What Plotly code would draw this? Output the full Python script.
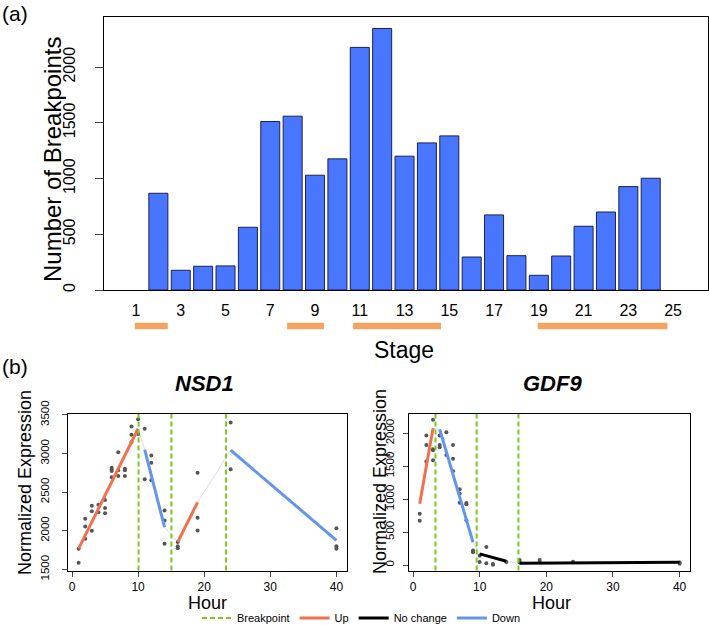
import plotly.graph_objects as go

W, H = 709, 625
FONT = "Liberation Sans, Arial, Helvetica, sans-serif"


def px(x):
    return x / W


def py(y):
    return 1 - y / H


# ---------------- Panel (a) data ----------------
stages = list(range(1, 26))
breakpoint_counts = [0, 868, 177, 213, 216, 563, 1512, 1560, 1030, 1177, 2177,
                     2347, 1201, 1320, 1383, 296, 674, 308, 132, 305, 572, 700,
                     928, 1003, 0]
stage_ticks = list(range(1, 26, 2))
lane_start = [0.95, 7.75, 10.7, 18.95]
lane_end = [2.42, 9.4, 14.63, 24.75]

# ---------------- Panel (b) data ----------------
nsd1_hour = [1, 1,
             2, 2, 2,
             3, 3, 3,
             4, 4,
             5, 5, 5,
             6, 6, 6, 6,
             7, 7, 7,
             8, 8, 8,
             9, 9, 9,
             10, 10,
             11, 11,
             12, 12, 12,
             14, 14, 14,
             16, 16, 16,
             19, 19, 19,
             24, 24,
             40, 40, 40]
nsd1_expr = [1586, 1769,
             2154, 2056, 1897,
             2325, 2252, 2000,
             2338, 2239,
             2397, 2295, 2226,
             2815, 2794, 2773, 2693,
             3017, 2782, 2709,
             2803, 2782, 2709,
             3350, 3244, 3150,
             3444, 3252,
             3321, 2667,
             2974, 2880, 2654,
             2261, 2132, 1833,
             1855, 1799, 1774,
             2752, 2167, 2004,
             3402, 2795,
             2034, 1799, 1769]
nsd1_seg_x0 = [1, 11, 16, 24]
nsd1_seg_x1 = [10, 14, 19, 40]
nsd1_seg_y0 = [1769, 3051, 1855, 3043]
nsd1_seg_y1 = [3320, 2047, 2368, 1876]
nsd1_seg_type = ["Up", "Down", "Up", "Down"]
nsd1_breaks = [10.07, 15.04, 23.3]

gdf9_hour = [1, 1,
             2, 2, 2,
             3, 3, 3, 3,
             4, 4, 4,
             5, 5,
             6, 6, 6,
             7, 7, 7,
             8, 8, 8,
             9, 9,
             10, 10,
             11, 11,
             12, 12,
             14,
             16, 16,
             19, 19,
             24,
             40, 40]
gdf9_expr = [779, 672,
             1964, 1822, 1570,
             2204, 1756, 1740, 1590,
             1964, 1822, 1786,
             2015, 1669,
             1822, 1613, 1425,
             1150, 1084, 947,
             941, 921, 680,
             219, 193,
             142, 45,
             275, 28,
             15, 5,
             45,
             76, 40,
             76, 50,
             50,
             40, 20]
gdf9_seg_x0 = [1, 4, 10, 16]
gdf9_seg_x1 = [3, 9, 14, 40]
gdf9_seg_y0 = [931, 2061, 170, 28]
gdf9_seg_y1 = [2076, 346, 58, 42]
gdf9_seg_type = ["Up", "Down", "No change", "No change"]
gdf9_breaks = [3.37, 9.55, 15.82]

seg_colors = {"Up": "#F0704F", "Down": "#6495ED", "No change": "#000000"}
legend_rank = {"Up": 2, "No change": 3, "Down": 4}
BREAK_COLOR = "#78C81E"

fig = go.Figure()

# ---------------- Panel (a) ----------------
# stages with no breakpoints draw no bar at all
bar_values = [v if v > 0 else None for v in breakpoint_counts]
fig.add_trace(go.Bar(
    x=stages, y=bar_values,
    marker=dict(color="#4876FF", line=dict(color="#1c2050", width=1)),
    xaxis="x", yaxis="y", showlegend=False, width=0.85,
))

for s, e in zip(lane_start, lane_end):
    fig.add_trace(go.Scatter(
        x=[s, e], y=[0, 0], mode="lines",
        line=dict(color="#F4A460", width=6.5),
        xaxis="x2", yaxis="y2", showlegend=False, hoverinfo="skip",
    ))

# ---------------- Panel (b) ----------------
shown = set()


def add_gene(hours, expr, sx0, sx1, sy0, sy1, stype, breaks, xa, ya):
    # light gray connectors between consecutive fitted segments
    for i in range(len(sx0) - 1):
        fig.add_trace(go.Scatter(
            x=[sx1[i], sx0[i + 1]], y=[sy1[i], sy0[i + 1]], mode="lines",
            line=dict(color="#dedede", width=1),
            xaxis=xa, yaxis=ya, showlegend=False, hoverinfo="skip",
        ))
    fig.add_trace(go.Scatter(
        x=hours, y=expr, mode="markers",
        marker=dict(color="#555555", size=4),
        xaxis=xa, yaxis=ya, showlegend=False,
    ))
    for a, b, c, d, t in zip(sx0, sx1, sy0, sy1, stype):
        first = t not in shown
        shown.add(t)
        fig.add_trace(go.Scatter(
            x=[a, b], y=[c, d], mode="lines",
            line=dict(color=seg_colors[t], width=3),
            name=t, legendgroup=t, showlegend=first, legendrank=legend_rank[t],
            xaxis=xa, yaxis=ya,
        ))
    for bp in breaks:
        fig.add_shape(
            type="line", x0=bp, x1=bp, y0=0, y1=1,
            xref=xa, yref=ya + " domain",
            line=dict(color=BREAK_COLOR, width=2, dash="5px,3px"),
            name="Breakpoint", legendgroup="Breakpoint",
            showlegend=("Breakpoint" not in shown), legendrank=1,
        )
        shown.add("Breakpoint")


add_gene(nsd1_hour, nsd1_expr, nsd1_seg_x0, nsd1_seg_x1, nsd1_seg_y0,
         nsd1_seg_y1, nsd1_seg_type, nsd1_breaks, "x3", "y3")
add_gene(gdf9_hour, gdf9_expr, gdf9_seg_x0, gdf9_seg_x1, gdf9_seg_y0,
         gdf9_seg_y1, gdf9_seg_type, gdf9_breaks, "x4", "y4")

axis_common = dict(showline=True, linecolor="black", linewidth=1, mirror=True,
                   showgrid=False, zeroline=False)

fig.update_layout(
    width=W, height=H,
    margin=dict(l=0, r=0, t=0, b=0, autoexpand=False),
    paper_bgcolor="white", plot_bgcolor="white",
    font=dict(family=FONT, color="black"),
    bargap=0.15,
    xaxis=dict(domain=[px(104), px(708)], range=[-0.43, 26.56], anchor="y",
               tickmode="array", tickvals=stage_ticks,
               ticks="", ticklabelstandoff=6,
               tickfont=dict(size=16), **axis_common),
    yaxis=dict(domain=[py(290), py(17)], range=[0, 2450], anchor="x",
               tickvals=[0, 500, 1000, 1500, 2000], ticks="outside", ticklen=8,
               tickangle=-90, tickfont=dict(size=16), ticklabelstandoff=14,
               **axis_common),
    xaxis2=dict(domain=[px(104), px(708)], range=[-0.43, 26.56], anchor="y2",
                visible=False),
    yaxis2=dict(domain=[py(334), py(318)], range=[-1, 1], anchor="x2",
                visible=False),
    xaxis3=dict(domain=[px(68.3), px(346.7)], range=[-0.56, 41.56], anchor="y3",
                tickvals=[0, 10, 20, 30, 40], ticks="outside", ticklen=5,
                tickfont=dict(size=12), **axis_common),
    yaxis3=dict(domain=[py(570.5), py(414)], range=[1486, 3511], anchor="x3",
                tickvals=[1500, 2000, 2500, 3000, 3500], ticks="outside",
                ticklen=5, tickangle=-90, tickfont=dict(size=11.5),
                ticklabelstandoff=9, **axis_common),
    xaxis4=dict(domain=[px(409.3), px(690)], range=[-0.56, 41.56], anchor="y4",
                tickvals=[0, 10, 20, 30, 40], ticks="outside", ticklen=5,
                tickfont=dict(size=12), **axis_common),
    yaxis4=dict(domain=[py(570.5), py(414)], range=[-83, 2292], anchor="x4",
                tickvals=[0, 500, 1000, 1500, 2000], ticks="outside",
                ticklen=5, tickangle=-90, tickfont=dict(size=11.5),
                ticklabelstandoff=5, **axis_common),
    legend=dict(orientation="h", x=px(361), y=-0.012, xanchor="center",
                yanchor="bottom", font=dict(size=11), itemwidth=30,
                bgcolor="rgba(0,0,0,0)", tracegroupgap=0),
)

annotations = [
    dict(text="(a)", x=px(0), y=py(14), xanchor="left", size=21),
    dict(text="(b)", x=px(0), y=py(366), xanchor="left", size=21),
    dict(text="Number of Breakpoints", x=px(52), y=py(160), angle=-90, size=24),
    dict(text="Stage", x=px(404), y=py(350), size=23),
    dict(text="<b><i>NSD1</i></b>", x=px(204), y=py(383), size=22),
    dict(text="<b><i>GDF9</i></b>", x=px(552), y=py(383), size=22),
    dict(text="Normalized Expression", x=px(25), y=py(483), angle=-90, size=18),
    dict(text="Normalized Expression", x=px(380), y=py(482), angle=-90, size=18),
    dict(text="Hour", x=px(207), y=py(603), size=18),
    dict(text="Hour", x=px(551), y=py(603), size=18),
]
for a in annotations:
    fig.add_annotation(
        text=a["text"], x=a["x"], y=a["y"], xref="paper", yref="paper",
        xanchor=a.get("xanchor", "center"), yanchor="middle",
        textangle=a.get("angle", 0), showarrow=False,
        font=dict(family=FONT, size=a["size"], color="black"),
    )

# remove the browser's default page margin so the figure sits at (0, 0)
fig.write_html(
    "out.html",
    config={"displayModeBar": False},
    post_script="document.body.style.margin='0';"
                "document.body.style.overflow='hidden';",
)
